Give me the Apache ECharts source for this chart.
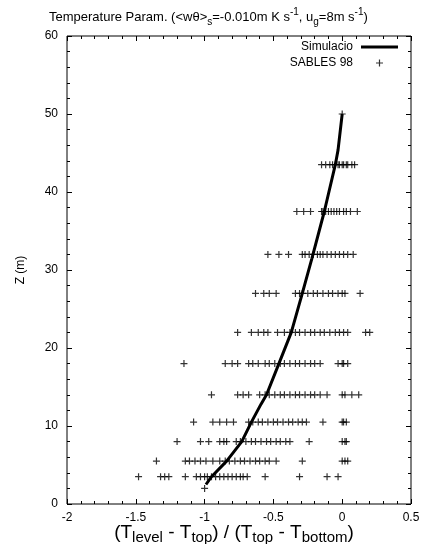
<!DOCTYPE html>
<html>
<head>
<meta charset="utf-8">
<script src="https://cdn.jsdelivr.net/npm/echarts@6/dist/echarts.min.js"></script>
<style>
  html, body { margin: 0; padding: 0; background: #fff; }
  #main { width: 423px; height: 544px; }
</style>
</head>
<body>
<div id="main"></div>
<script>
// simulated profile (x = normalised temperature, z = height in m)
var simX = [-0.99, -0.95, -0.84, -0.73, -0.66, -0.59, -0.55, -0.46, -0.37, -0.29, -0.22, -0.13, -0.05, -0.03, 0.0];
var simZ = [2.5, 3.5, 5.5, 8, 10.5, 12.8, 14, 18, 22, 27, 31.5, 37.5, 43.5, 45.4, 50];

// SABLES 98 observations, one array per measuring level
var levelZ = [2, 3.5, 5.5, 8, 10.5, 14, 18, 22, 27, 32, 37.5, 43.5, 50];
var lev2 = [-1.0];
var lev3_5 = [-1.48, -1.32, -1.29, -1.26, -1.14, -1.06, -1.03, -1.00, -0.98, -0.95, -0.92, -0.89, -0.86, -0.83, -0.80, -0.77, -0.74, -0.72, -0.69, -0.56, -0.31, -0.11, -0.03];
var lev5_5 = [-1.35, -1.14, -1.11, -1.07, -1.03, -0.99, -0.94, -0.89, -0.85, -0.82, -0.78, -0.74, -0.71, -0.67, -0.63, -0.60, -0.56, -0.53, -0.48, -0.29, 0.00, 0.02, 0.04];
var lev8 = [-1.20, -1.03, -0.97, -0.89, -0.86, -0.84, -0.77, -0.74, -0.70, -0.66, -0.63, -0.59, -0.55, -0.52, -0.48, -0.45, -0.41, -0.38, -0.24, 0.00, 0.02, 0.03];
var lev10_5 = [-1.08, -0.94, -0.89, -0.84, -0.79, -0.68, -0.65, -0.61, -0.58, -0.54, -0.50, -0.47, -0.43, -0.39, -0.36, -0.32, -0.29, -0.26, -0.14, 0.00, 0.01, 0.03];
var lev14 = [-0.95, -0.76, -0.72, -0.68, -0.60, -0.56, -0.53, -0.49, -0.45, -0.42, -0.38, -0.34, -0.31, -0.27, -0.23, -0.20, -0.16, -0.11, 0.00, 0.02, 0.07, 0.12];
var lev18 = [-1.15, -0.85, -0.80, -0.76, -0.68, -0.65, -0.61, -0.56, -0.53, -0.49, -0.45, -0.42, -0.38, -0.34, -0.31, -0.27, -0.23, -0.20, -0.16, -0.03, 0.00, 0.01, 0.04];
var lev22 = [-0.76, -0.66, -0.61, -0.57, -0.54, -0.47, -0.42, -0.38, -0.34, -0.31, -0.27, -0.23, -0.20, -0.16, -0.13, -0.09, -0.05, -0.02, 0.01, 0.04, 0.17, 0.20];
var lev27 = [-0.63, -0.57, -0.53, -0.48, -0.34, -0.31, -0.29, -0.25, -0.21, -0.18, -0.14, -0.10, -0.07, -0.03, 0.00, 0.02, 0.13];
var lev32 = [-0.54, -0.46, -0.39, -0.29, -0.27, -0.24, -0.21, -0.18, -0.16, -0.14, -0.11, -0.08, -0.05, -0.02, 0.01, 0.04, 0.08];
var lev37_5 = [-0.33, -0.28, -0.23, -0.15, -0.14, -0.12, -0.10, -0.08, -0.06, -0.04, -0.02, 0.01, 0.03, 0.06, 0.11];
var lev43_5 = [-0.15, -0.12, -0.09, -0.07, -0.05, -0.03, -0.02, 0.00, 0.01, 0.03, 0.04, 0.07, 0.09];
var lev50 = [0.0];
var levelX = [lev2, lev3_5, lev5_5, lev8, lev10_5, lev14, lev18, lev22, lev27, lev32, lev37_5, lev43_5, lev50];

var FONT = '"Liberation Sans", Arial, sans-serif';
var PLUS = 'path://M0,2.9h7v1.2h-7zM2.9,0h1.2v7h-1.2z';
var BAR = 'path://M0,0h37v3h-37z';

var simData = simX.map(function (x, i) { return [x, simZ[i]]; });
var obsData = [];
levelX.forEach(function (xs, i) {
  xs.forEach(function (x) { obsData.push([x, levelZ[i]]); });
});

function richSet(base, small, lh) {
  return {
    b: { fontSize: base, lineHeight: lh, fontFamily: FONT, fontWeight: 'normal', color: '#000' },
    sub: { fontSize: small, verticalAlign: 'bottom', fontFamily: FONT, fontWeight: 'normal', color: '#000' },
    sup: { fontSize: small, verticalAlign: 'top', fontFamily: FONT, fontWeight: 'normal', color: '#000' }
  };
}

function xAxisDef(pos) {
  return {
    type: 'value', position: pos, min: -2, max: 0.5, interval: 0.5,
    axisLine: { show: false, onZero: false },
    axisTick: { inside: true, length: 5, lineStyle: { color: '#000' } },
    minorTick: { show: true, splitNumber: 5, length: 3, lineStyle: { color: '#000' } },
    splitLine: { show: false },
    axisLabel: {
      show: pos === 'bottom', color: '#000', fontSize: 12, fontFamily: FONT, margin: 8
    }
  };
}
function yAxisDef(pos) {
  return {
    type: 'value', position: pos, min: 0, max: 60, interval: 10,
    axisLine: { show: false, onZero: false },
    axisTick: { inside: true, length: 5, lineStyle: { color: '#000' } },
    minorTick: { show: true, splitNumber: 5, length: 3, lineStyle: { color: '#000' } },
    splitLine: { show: false },
    axisLabel: {
      show: pos === 'left', color: '#000', fontSize: 12, fontFamily: FONT, margin: 9
    }
  };
}

var xBottom = xAxisDef('bottom');
xBottom.name = '{b|(T}{sub|level}{b| - T}{sub|top}{b|) / (T}{sub|top}{b| - T}{sub|bottom}{b|)}';
xBottom.nameLocation = 'middle';
xBottom.nameGap = 17;
xBottom.nameMoveOverlap = false;
xBottom.nameTextStyle = { rich: richSet(19, 15, 24), padding: [0, 10, 0, 0] };

var yLeft = yAxisDef('left');
yLeft.name = 'Z (m)';
yLeft.nameLocation = 'middle';
yLeft.nameGap = 40;
yLeft.nameMoveOverlap = false;
yLeft.nameTextStyle = { color: '#000', fontSize: 12, fontFamily: FONT };

var chart = echarts.init(document.getElementById('main'));
chart.setOption({
  animation: false,
  backgroundColor: '#fff',
  title: {
    text: '{b|Temperature Param. (<w\u03b8>}{sub|s}{b|=-0.010m K s}{sup|-1}{b|, u}{sub|g}{b|=8m s}{sup|-1}{b|)}',
    left: 44, top: 2,
    textStyle: { fontWeight: 'normal', rich: richSet(13, 10, 20) }
  },
  legend: {
    orient: 'vertical', right: 25, top: 41, align: 'right', padding: 0,
    itemWidth: 37, itemHeight: 7, itemGap: 4,
    textStyle: { color: '#000', fontSize: 12, fontFamily: FONT, padding: [0, 3, 0, 0] },
    data: [
      { name: 'Simulacio', icon: BAR },
      { name: 'SABLES 98', icon: PLUS }
    ]
  },
  grid: {
    left: 67, right: 12, top: 36, bottom: 40,
    outerBoundsMode: 'none',
    show: true, borderColor: '#000', borderWidth: 1
  },
  xAxis: [xBottom, xAxisDef('top')],
  yAxis: [yLeft, yAxisDef('right')],
  series: [
    {
      name: 'SABLES 98', type: 'scatter', data: obsData,
      symbol: PLUS, symbolSize: 7,
      itemStyle: { color: '#000' }
    },
    {
      name: 'Simulacio', type: 'line', data: simData,
      symbol: 'none', smooth: false,
      lineStyle: { color: '#000', width: 3 },
      itemStyle: { color: '#000' }
    }
  ]
});
</script>
</body>
</html>
